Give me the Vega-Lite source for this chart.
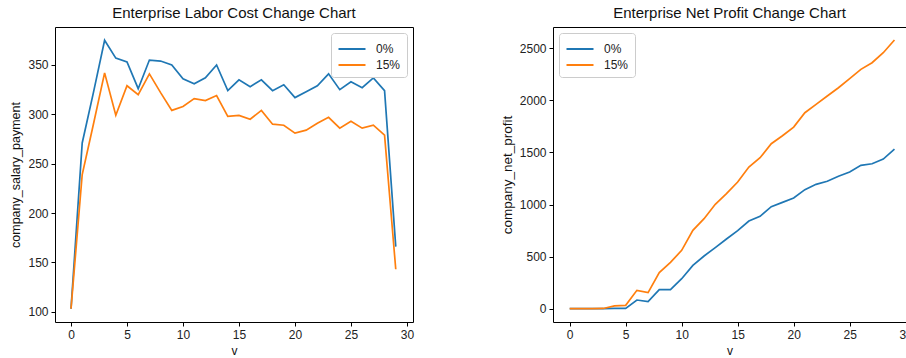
{
  "$schema": "https://vega.github.io/schema/vega-lite/v6.json",
  "padding": {"left": 9, "top": 5, "right": 0, "bottom": 0},
  "background": "white",
  "datasets": {
    "salary": [
      {"v":0,"rate":"0%","value":103},{"v":1,"rate":"0%","value":271},{"v":2,"rate":"0%","value":322},{"v":3,"rate":"0%","value":375},{"v":4,"rate":"0%","value":357},{"v":5,"rate":"0%","value":353},{"v":6,"rate":"0%","value":326},{"v":7,"rate":"0%","value":355},{"v":8,"rate":"0%","value":354},{"v":9,"rate":"0%","value":350},{"v":10,"rate":"0%","value":336},{"v":11,"rate":"0%","value":331},{"v":12,"rate":"0%","value":337},{"v":13,"rate":"0%","value":350},{"v":14,"rate":"0%","value":324},{"v":15,"rate":"0%","value":335},{"v":16,"rate":"0%","value":328},{"v":17,"rate":"0%","value":335},{"v":18,"rate":"0%","value":324},{"v":19,"rate":"0%","value":330},{"v":20,"rate":"0%","value":317},{"v":21,"rate":"0%","value":323},{"v":22,"rate":"0%","value":329},{"v":23,"rate":"0%","value":341},{"v":24,"rate":"0%","value":325},{"v":25,"rate":"0%","value":333},{"v":26,"rate":"0%","value":327},{"v":27,"rate":"0%","value":337},{"v":28,"rate":"0%","value":324},{"v":29,"rate":"0%","value":166},
      {"v":0,"rate":"15%","value":103},{"v":1,"rate":"15%","value":239},{"v":2,"rate":"15%","value":290},{"v":3,"rate":"15%","value":342},{"v":4,"rate":"15%","value":299},{"v":5,"rate":"15%","value":329},{"v":6,"rate":"15%","value":320},{"v":7,"rate":"15%","value":341},{"v":8,"rate":"15%","value":322},{"v":9,"rate":"15%","value":304},{"v":10,"rate":"15%","value":308},{"v":11,"rate":"15%","value":316},{"v":12,"rate":"15%","value":314},{"v":13,"rate":"15%","value":319},{"v":14,"rate":"15%","value":298},{"v":15,"rate":"15%","value":299},{"v":16,"rate":"15%","value":295},{"v":17,"rate":"15%","value":304},{"v":18,"rate":"15%","value":290},{"v":19,"rate":"15%","value":289},{"v":20,"rate":"15%","value":281},{"v":21,"rate":"15%","value":284},{"v":22,"rate":"15%","value":291},{"v":23,"rate":"15%","value":297},{"v":24,"rate":"15%","value":286},{"v":25,"rate":"15%","value":293},{"v":26,"rate":"15%","value":286},{"v":27,"rate":"15%","value":289},{"v":28,"rate":"15%","value":279},{"v":29,"rate":"15%","value":143}
    ],
    "profit": [
      {"v":0,"rate":"0%","value":0},{"v":1,"rate":"0%","value":0},{"v":2,"rate":"0%","value":0},{"v":3,"rate":"0%","value":0},{"v":4,"rate":"0%","value":2},{"v":5,"rate":"0%","value":3},{"v":6,"rate":"0%","value":83},{"v":7,"rate":"0%","value":67},{"v":8,"rate":"0%","value":182},{"v":9,"rate":"0%","value":183},{"v":10,"rate":"0%","value":288},{"v":11,"rate":"0%","value":416},{"v":12,"rate":"0%","value":506},{"v":13,"rate":"0%","value":586},{"v":14,"rate":"0%","value":669},{"v":15,"rate":"0%","value":749},{"v":16,"rate":"0%","value":842},{"v":17,"rate":"0%","value":887},{"v":18,"rate":"0%","value":980},{"v":19,"rate":"0%","value":1021},{"v":20,"rate":"0%","value":1063},{"v":21,"rate":"0%","value":1143},{"v":22,"rate":"0%","value":1194},{"v":23,"rate":"0%","value":1223},{"v":24,"rate":"0%","value":1271},{"v":25,"rate":"0%","value":1312},{"v":26,"rate":"0%","value":1376},{"v":27,"rate":"0%","value":1392},{"v":28,"rate":"0%","value":1437},{"v":29,"rate":"0%","value":1533},
      {"v":0,"rate":"15%","value":0},{"v":1,"rate":"15%","value":0},{"v":2,"rate":"15%","value":0},{"v":3,"rate":"15%","value":2},{"v":4,"rate":"15%","value":26},{"v":5,"rate":"15%","value":32},{"v":6,"rate":"15%","value":176},{"v":7,"rate":"15%","value":154},{"v":8,"rate":"15%","value":346},{"v":9,"rate":"15%","value":445},{"v":10,"rate":"15%","value":560},{"v":11,"rate":"15%","value":752},{"v":12,"rate":"15%","value":864},{"v":13,"rate":"15%","value":1002},{"v":14,"rate":"15%","value":1104},{"v":15,"rate":"15%","value":1216},{"v":16,"rate":"15%","value":1360},{"v":17,"rate":"15%","value":1450},{"v":18,"rate":"15%","value":1584},{"v":19,"rate":"15%","value":1661},{"v":20,"rate":"15%","value":1744},{"v":21,"rate":"15%","value":1882},{"v":22,"rate":"15%","value":1962},{"v":23,"rate":"15%","value":2042},{"v":24,"rate":"15%","value":2122},{"v":25,"rate":"15%","value":2209},{"v":26,"rate":"15%","value":2298},{"v":27,"rate":"15%","value":2362},{"v":28,"rate":"15%","value":2458},{"v":29,"rate":"15%","value":2580}
    ]
  },
  "hconcat": [
    {
      "width": 358,
      "height": 295,
      "title": {"text": "Enterprise Labor Cost Change Chart"},
      "data": {"name": "salary"},
      "mark": {"type": "line", "strokeWidth": 1.7},
      "encoding": {
        "x": {"field": "v", "type": "quantitative", "title": "v",
              "scale": {"domain": [-1.43, 30.54], "nice": false, "zero": false},
              "axis": {"values": [0, 5, 10, 15, 20, 25, 30], "format": "d", "labelFlush": false}},
        "y": {"field": "value", "type": "quantitative", "title": "company_salary_payment",
              "scale": {"domain": [89.6, 388.5], "nice": false, "zero": false},
              "axis": {"values": [100, 150, 200, 250, 300, 350], "format": "d", "titleFontSize": 12.5}},
        "color": {"field": "rate", "type": "nominal", "sort": ["0%", "15%"],
                  "scale": {"domain": ["0%", "15%"], "range": ["#1f77b4", "#ff7f0e"]},
                  "legend": {"orient": "top-right", "title": null, "offset": 6}}
      }
    },
    {
      "width": 353,
      "height": 295,
      "title": {"text": "Enterprise Net Profit Change Chart"},
      "data": {"name": "profit"},
      "mark": {"type": "line", "strokeWidth": 1.7},
      "encoding": {
        "x": {"field": "v", "type": "quantitative", "title": "v",
              "scale": {"domain": [-1.49, 30.03], "nice": false, "zero": false},
              "axis": {"values": [0, 5, 10, 15, 20, 25, 30], "format": "d", "labelFlush": false}},
        "y": {"field": "value", "type": "quantitative", "title": "company_net_profit",
              "scale": {"domain": [-128, 2705], "nice": false, "zero": false},
              "axis": {"values": [0, 500, 1000, 1500, 2000, 2500], "format": "d", "titleFontSize": 13.5}},
        "color": {"field": "rate", "type": "nominal", "sort": ["0%", "15%"],
                  "scale": {"domain": ["0%", "15%"], "range": ["#1f77b4", "#ff7f0e"]},
                  "legend": {"orient": "top-left", "title": null, "offset": 6}}
      }
    }
  ],
  "resolve": {"legend": {"color": "independent"}},
  "spacing": 84,
  "config": {
    "font": "Liberation Sans",
    "view": {"stroke": "#000", "strokeWidth": 1},
    "title": {"fontSize": 15, "fontWeight": "normal", "color": "#111", "offset": 6, "font": "Liberation Sans"},
    "axis": {
      "domain": false, "grid": false, "ticks": true, "tickColor": "#000", "tickSize": 4,
      "labelFontSize": 12, "labelColor": "#222", "labelPadding": 3,
      "titleFontSize": 12, "titleFontWeight": "normal", "titleColor": "#111", "titlePadding": 5,
      "labelFont": "Liberation Sans", "titleFont": "Liberation Sans"
    },
    "legend": {
      "symbolType": "M-1.5,0H1.5", "symbolSize": 324, "symbolStrokeWidth": 2,
      "labelFontSize": 12, "labelColor": "#222", "strokeColor": "#ccc", "fillColor": "white",
      "padding": 6, "cornerRadius": 3, "rowPadding": 0, "labelOffset": 14, "symbolOffset": 5
    }
  }
}
